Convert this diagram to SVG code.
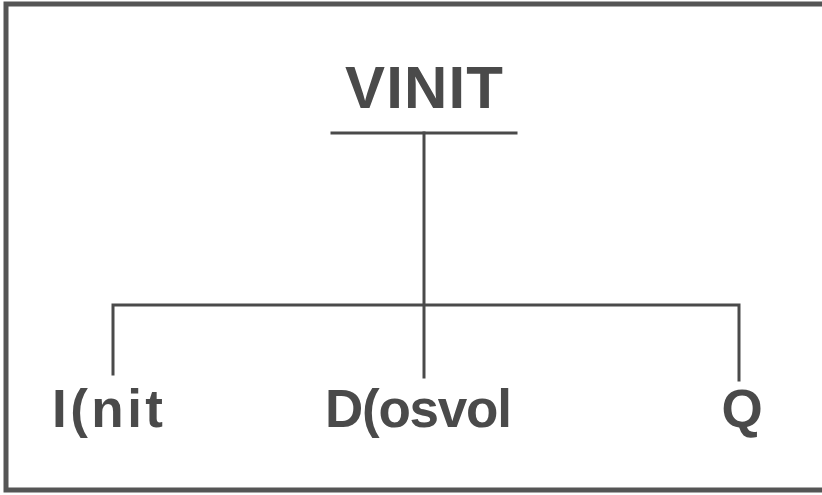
<svg xmlns="http://www.w3.org/2000/svg" width="822" height="495" viewBox="0 0 822 495">
<style>
.ln{stroke:#4a4a4a;stroke-width:3;fill:none;stroke-linecap:square}
.frame{stroke:#555;stroke-width:5;fill:none}
.t{font-family:"Liberation Sans",Arial,sans-serif;font-weight:bold;fill:#4a4a4a;text-anchor:middle}
</style>
<rect width="822" height="495" fill="#fff"/>
<path class="frame" d="M826,4 L6,4 L6,490 L826,490"/>
<g id="connectors">
<line class="ln" x1="332" y1="133" x2="516" y2="133"/>
<line class="ln" x1="424" y1="133" x2="424" y2="377"/>
<polyline class="ln" points="113,374 113,305 739,305 739,380"/>
</g>
<g id="VINIT"><text class="t" x="424" y="108" font-size="60" textLength="158" lengthAdjust="spacing">VINIT</text></g>
<g id="Init"><text class="t" x="107.5" y="427" font-size="53" textLength="111" lengthAdjust="spacing">I(nit</text></g>
<g id="Dosvol"><text class="t" x="418.5" y="427" font-size="53" textLength="187" lengthAdjust="spacing">D(osvol</text></g>
<g id="Q"><text class="t" x="742" y="427" font-size="53">Q</text></g>
</svg>
